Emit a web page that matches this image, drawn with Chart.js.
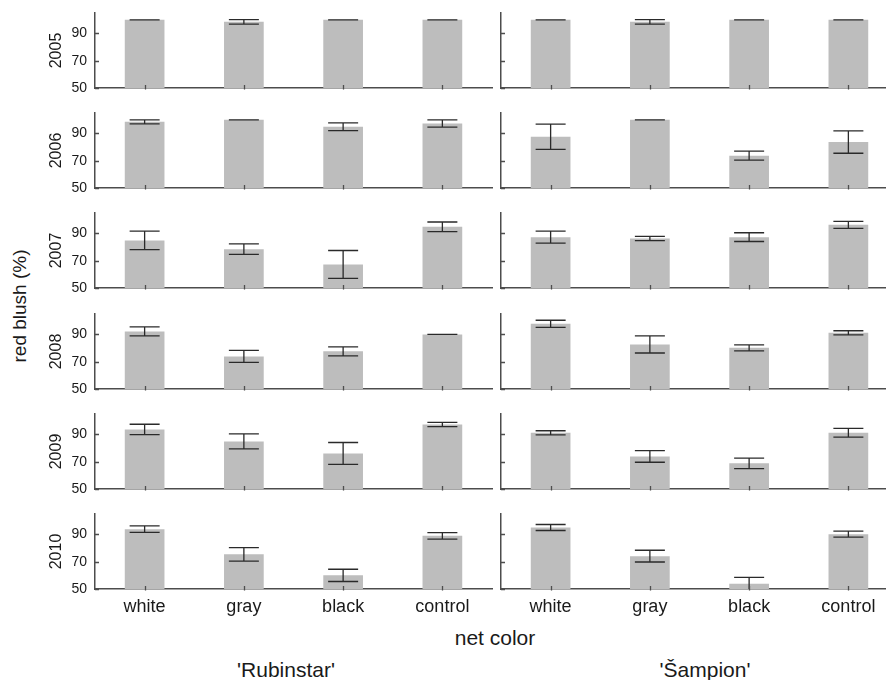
<!DOCTYPE html>
<html>
<head>
<meta charset="utf-8">
<script src="https://cdn.jsdelivr.net/npm/chart.js@4.4.1/dist/chart.umd.min.js"></script>
<style>
  html, body { margin: 0; padding: 0; background: #fff; overflow: hidden; }
  #wrap { position: relative; width: 886px; height: 680px; overflow: hidden;
          font-family: "Liberation Sans", Arial, sans-serif; color: #1a1a1a; }
  #wrap canvas { position: absolute; }
  .lbl { position: absolute; white-space: nowrap; transform: translate(-50%, -50%); }
</style>
</head>
<body>
<div id="wrap">
  <div class="lbl" style="left:20px;top:306px;font-size:19px;transform:translate(-50%,-50%) rotate(-90deg)">red blush (%)</div>
  <div class="lbl" style="left:495px;top:638px;font-size:21px">net color</div>
  <div class="lbl" style="left:286px;top:670px;font-size:21px">'Rubinstar'</div>
  <div class="lbl" style="left:705px;top:670px;font-size:21px">'Šampion'</div>
</div>
<script>
// data (means and +/- error per year, order = netColors)
const years = ['2005', '2006', '2007', '2008', '2009', '2010'];
const netColors = ['white', 'gray', 'black', 'control'];
const yTicks = [50, 60, 70, 80, 90, 100];
const yLabelled = [50, 70, 90];

const rubinstarMeans = [
  [100, 98.5, 100, 100],
  [98.5, 100, 94.9, 97.3],
  [84.9, 78.5, 67.3, 94.9],
  [92.2, 73.9, 77.6, 90],
  [93.7, 84.9, 76.1, 97.3],
  [93.9, 75.4, 60, 89]
];
const rubinstarErrors = [
  [0, 1.6, 0, 0],
  [1.5, 0, 2.8, 2.6],
  [6.8, 3.8, 10.2, 3.5],
  [3.3, 4.4, 3.3, 0],
  [3.8, 5.5, 8, 1.6],
  [2.4, 5, 4.5, 2.4]
];
const sampionMeans = [
  [100, 98.5, 100, 100],
  [87.6, 100, 73.7, 83.7],
  [87.3, 86.3, 87.3, 96.3],
  [97.8, 82.7, 80.2, 91.2],
  [91.2, 73.9, 68.8, 91.2],
  [95.1, 74.1, 53.9, 90.2]
];
const sampionErrors = [
  [0, 1.6, 0, 0],
  [9.3, 0, 3.3, 8.2],
  [4.4, 1.5, 3.2, 2.6],
  [2.6, 6.3, 2.2, 1.5],
  [1.5, 4.3, 3.8, 3.2],
  [2.2, 4.3, 4.6, 2.2]
];

const FONT = '"Liberation Sans", Arial, sans-serif';
const INK = '#1a1a1a', AXIS = '#4d4d4d';

const errorBars = {
  id: 'errorBars',
  afterDatasetsDraw(chart) {
    const { ctx, chartArea: a, scales: { x, y } } = chart;
    const ds = chart.data.datasets[0];
    ctx.save();
    ctx.beginPath(); ctx.rect(a.left, 0, a.width, a.bottom); ctx.clip();
    ctx.strokeStyle = '#2a2a2a'; ctx.lineWidth = 1.3;
    ds.data.forEach((m, i) => {
      const px = x.getPixelForValue(i);
      const hi = y.getPixelForValue(m + ds.errors[i]);
      const lo = y.getPixelForValue(m - ds.errors[i]);
      ctx.beginPath();
      ctx.moveTo(px, hi); ctx.lineTo(px, lo);
      ctx.moveTo(px - 15, hi); ctx.lineTo(px + 15, hi);
      ctx.moveTo(px - 15, lo); ctx.lineTo(px + 15, lo);
      ctx.stroke();
    });
    ctx.restore();
  }
};

// small tick marks pointing into the plot area
const innerTicks = {
  id: 'innerTicks',
  afterDraw(chart) {
    const { ctx, chartArea: a, scales: { x, y } } = chart;
    ctx.save();
    ctx.strokeStyle = AXIS; ctx.lineWidth = 1.3;
    ctx.beginPath();
    y.ticks.forEach(t => {
      const py = Math.round(y.getPixelForValue(t.value)) + 0.5;
      ctx.moveTo(a.left, py); ctx.lineTo(a.left + 4, py);
    });
    x.ticks.forEach((t, i) => {
      const px = Math.round(x.getPixelForValue(i)) + 0.5;
      ctx.moveTo(px, a.bottom + 1.5); ctx.lineTo(px, a.bottom - 3);
    });
    ctx.stroke();
    ctx.restore();
  }
};

function noPad(s) {
  s.paddingTop = 0; s.paddingBottom = 0; s.paddingLeft = 0; s.paddingRight = 0;
}

function panel(col, row, means, errors) {
  const last = row === years.length - 1;
  const cv = document.createElement('canvas');
  cv.width = col ? 404 : 495;
  cv.height = last ? 130 : 100;
  cv.style.left = (col ? 497 : 0) + 'px';
  cv.style.top = Math.round(100.2 * row) + 'px';
  document.getElementById('wrap').appendChild(cv);

  new Chart(cv, {
    type: 'bar',
    data: {
      labels: netColors,
      datasets: [{ data: means, errors, backgroundColor: '#bdbdbd',
                   barPercentage: 0.4, categoryPercentage: 1 }]
    },
    plugins: [errorBars, innerTicks],
    options: {
      responsive: false, animation: false, devicePixelRatio: 1,
      layout: { padding: { top: 13, right: 3, left: 0, bottom: 0 } },
      plugins: { legend: { display: false }, tooltip: { enabled: false } },
      scales: {
        x: {
          offset: true,
          grid: { offset: false, drawOnChartArea: false, drawTicks: false },
          border: { color: AXIS, width: 1.5 },
          ticks: { display: last, color: INK, font: { size: 18, family: FONT },
                   padding: 7, maxRotation: 0, autoSkip: false },
          afterFit: s => { s.height = last ? 42 : 12; noPad(s); }
        },
        y: {
          min: 50, max: 105,
          afterBuildTicks: s => { s.ticks = yTicks.map(v => ({ value: v })); },
          grid: { drawOnChartArea: false, drawTicks: false },
          border: { color: AXIS, width: 1.5 },
          ticks: { color: INK, font: { size: 14, family: FONT }, padding: 8,
                   callback: v => (col === 0 && yLabelled.includes(v)) ? String(v) : '' },
          title: { display: col === 0, text: years[row], color: INK,
                   font: { size: 16, family: FONT }, padding: { top: 47, bottom: 0 } },
          afterFit: s => { s.width = col ? 4 : 95; noPad(s); }
        }
      }
    }
  });
}

years.forEach((yr, r) => {
  panel(0, r, rubinstarMeans[r], rubinstarErrors[r]);
  panel(1, r, sampionMeans[r], sampionErrors[r]);
});
</script>
</body>
</html>
